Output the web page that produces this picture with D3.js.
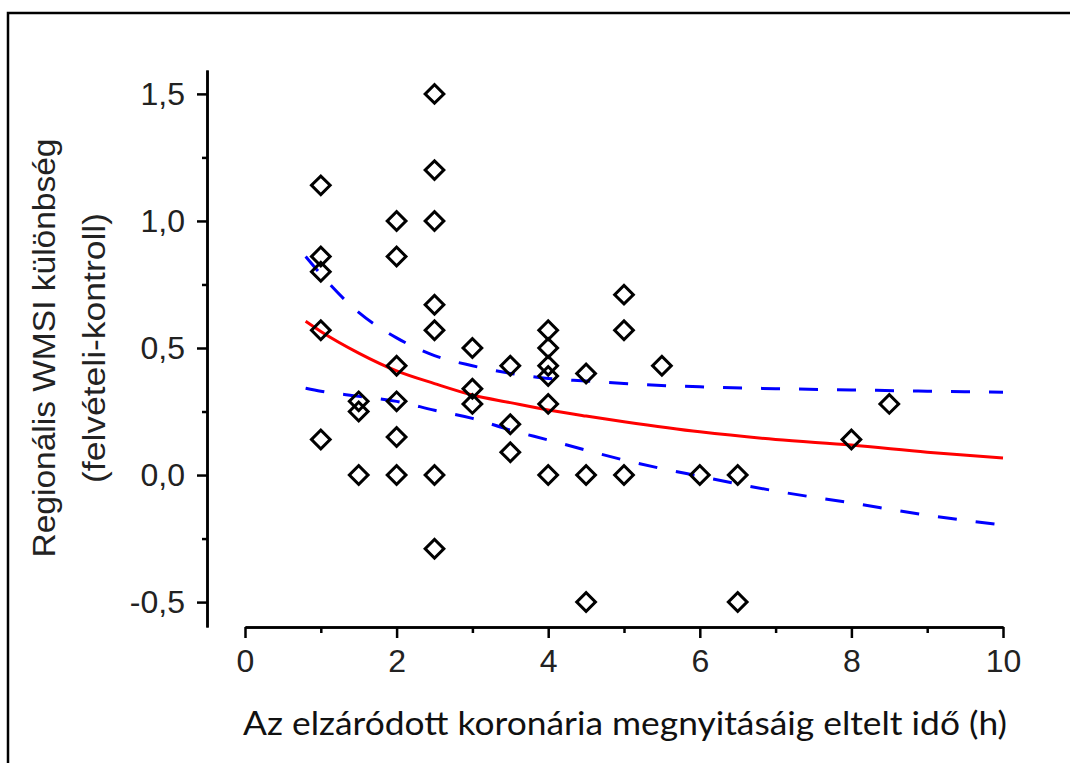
<!DOCTYPE html>
<html lang="hu">
<head>
  <meta charset="UTF-8">
  <title>WMSI különbség</title>
  <script src="https://d3js.org/d3.v7.min.js"></script>
  <style>
    body { margin: 0; background: #fff; }
    .axis path, .axis line { stroke: #000; stroke-width: 2.5px; fill: none; }
    .axis text { font-family: "Liberation Sans", Arial, sans-serif; fill: #222; }
  </style>
</head>
<body>
<script>
  // measured points: x = time to reopening (h), y = regional WMSI difference
  const pointX = [1, 1, 1, 1, 1,
    1.5, 1.5, 1.5,
    2, 2, 2, 2, 2, 2,
    2.5, 2.5, 2.5, 2.5, 2.5, 2.5, 2.5,
    3, 3, 3,
    3.5, 3.5, 3.5,
    4, 4, 4, 4, 4, 4,
    4.5, 4.5, 4.5,
    5, 5, 5,
    5.5, 6, 6.5, 6.5, 8, 8.5];
  const pointY = [1.14, 0.86, 0.8, 0.57, 0.14,
    0.29, 0.25, 0,
    1.0, 0.86, 0.43, 0.29, 0.15, 0,
    1.5, 1.2, 1.0, 0.67, 0.57, 0, -0.29,
    0.5, 0.34, 0.28,
    0.43, 0.2, 0.09,
    0.57, 0.5, 0.43, 0.39, 0.28, 0,
    0.4, 0, -0.5,
    0.71, 0.57, 0,
    0.43, 0, 0, -0.5, 0.14, 0.28];

  // fitted curve and confidence band
  const fitX   = [0.8, 1, 1.5, 2, 2.5, 3, 3.5, 4, 4.5, 5, 6, 7, 8, 9, 10];
  const fitY   = [0.605, 0.565, 0.48, 0.41, 0.36, 0.315, 0.285, 0.256, 0.232, 0.21, 0.17, 0.14, 0.118, 0.09, 0.067];
  const upperY = [0.86, 0.79, 0.64, 0.54, 0.47, 0.43, 0.40, 0.38, 0.37, 0.36, 0.347, 0.34, 0.335, 0.33, 0.326];
  const lowerY = [0.342, 0.33, 0.31, 0.29, 0.255, 0.223, 0.177, 0.138, 0.098, 0.059, -0.005, -0.063, -0.11, -0.158, -0.197];

  const xTicks = [0, 2, 4, 6, 8, 10];
  const xMinor = [1, 3, 5, 7, 9];
  const yTicks = [-0.5, 0, 0.5, 1.0, 1.5];
  const yMinor = [-0.25, 0.25, 0.75, 1.25];

  const xTitle = "Az elzáródott koronária megnyitásáig eltelt idő (h)";
  const yTitle = ["Regionális WMSI különbség", "(felvételi-kontroll)"];

  const width = 1070, height = 763;

  const svg = d3.select("body").append("svg")
    .attr("width", width).attr("height", height);

  // outer frame (only top and left edges are visible)
  svg.append("rect")
    .attr("x", 8).attr("y", 13)
    .attr("width", 2000).attr("height", 2000)
    .attr("fill", "none").attr("stroke", "#000").attr("stroke-width", 2.5);

  const x = d3.scaleLinear().domain([0, 10]).range([245, 1003]);
  const y = d3.scaleLinear().domain([-0.598, 1.594]).range([627, 70]);

  // comma decimals, plain hyphen for minus
  const hu = d3.formatLocale({decimal: ",", thousands: " ", grouping: [3], currency: ["", " Ft"], minus: "-"});
  const fmtY = hu.format(".1f");

  // y axis
  svg.append("g").attr("class", "axis")
    .attr("transform", "translate(207,0)")
    .call(d3.axisLeft(y).tickValues(yMinor).tickSize(5).tickSizeOuter(0).tickFormat(""));
  svg.append("g").attr("class", "axis y")
    .attr("transform", "translate(207,0)")
    .call(d3.axisLeft(y).tickValues(yTicks).tickSize(10).tickSizeOuter(0)
      .tickPadding(12).tickFormat(fmtY))
    .call(g => g.selectAll("text").attr("font-size", 32));

  // x axis
  svg.append("g").attr("class", "axis")
    .attr("transform", "translate(0,627)")
    .call(d3.axisBottom(x).tickValues(xMinor).tickSize(6).tickSizeOuter(0).tickFormat(""));
  svg.append("g").attr("class", "axis x")
    .attr("transform", "translate(0,627)")
    .call(d3.axisBottom(x).tickValues(xTicks).tickSize(11).tickSizeOuter(0)
      .tickPadding(11).tickFormat(d3.format("d")))
    .call(g => g.selectAll("text").attr("font-size", 32));

  // titles
  svg.append("text")
    .attr("x", (x(0) + x(10)) / 2 + 1).attr("y", 735)
    .attr("text-anchor", "middle")
    .attr("font-family", "Lato, 'Open Sans', sans-serif")
    .attr("font-size", 33).attr("fill", "#111")
    .attr("textLength", 764)
    .attr("lengthAdjust", "spacingAndGlyphs")
    .text(xTitle);

  yTitle.forEach((t, i) => {
    svg.append("text")
      .attr("transform", `translate(${55 + i * 50},348) rotate(-90)`)
      .attr("text-anchor", "middle")
      .attr("font-family", "'Liberation Sans', Arial, sans-serif")
      .attr("font-size", 31).attr("fill", "#222")
      .attr("textLength", i === 0 ? 419 : 270)
      .attr("lengthAdjust", "spacingAndGlyphs")
      .text(t);
  });

  // curves
  const line = d3.line().curve(d3.curveMonotoneX);
  const pts = ys => fitX.map((v, i) => [x(v), y(ys[i])]);

  svg.append("path").attr("d", line(pts(upperY)))
    .attr("fill", "none").attr("stroke", "#0000ff").attr("stroke-width", 3)
    .attr("stroke-dasharray", "19,19");
  svg.append("path").attr("d", line(pts(lowerY)))
    .attr("fill", "none").attr("stroke", "#0000ff").attr("stroke-width", 3)
    .attr("stroke-dasharray", "19,19");
  svg.append("path").attr("d", line(pts(fitY)))
    .attr("fill", "none").attr("stroke", "#ff0000").attr("stroke-width", 3);

  // diamonds
  const diamond = d3.symbol().type(d3.symbolSquare).size(175);
  svg.append("g").selectAll("path")
    .data(pointX.map((v, i) => [v, pointY[i]]))
    .join("path")
      .attr("d", diamond)
      .attr("transform", d => `translate(${x(d[0])},${y(d[1])}) rotate(45)`)
      .attr("fill", "none").attr("stroke", "#000").attr("stroke-width", 3);
</script>
</body>
</html>
